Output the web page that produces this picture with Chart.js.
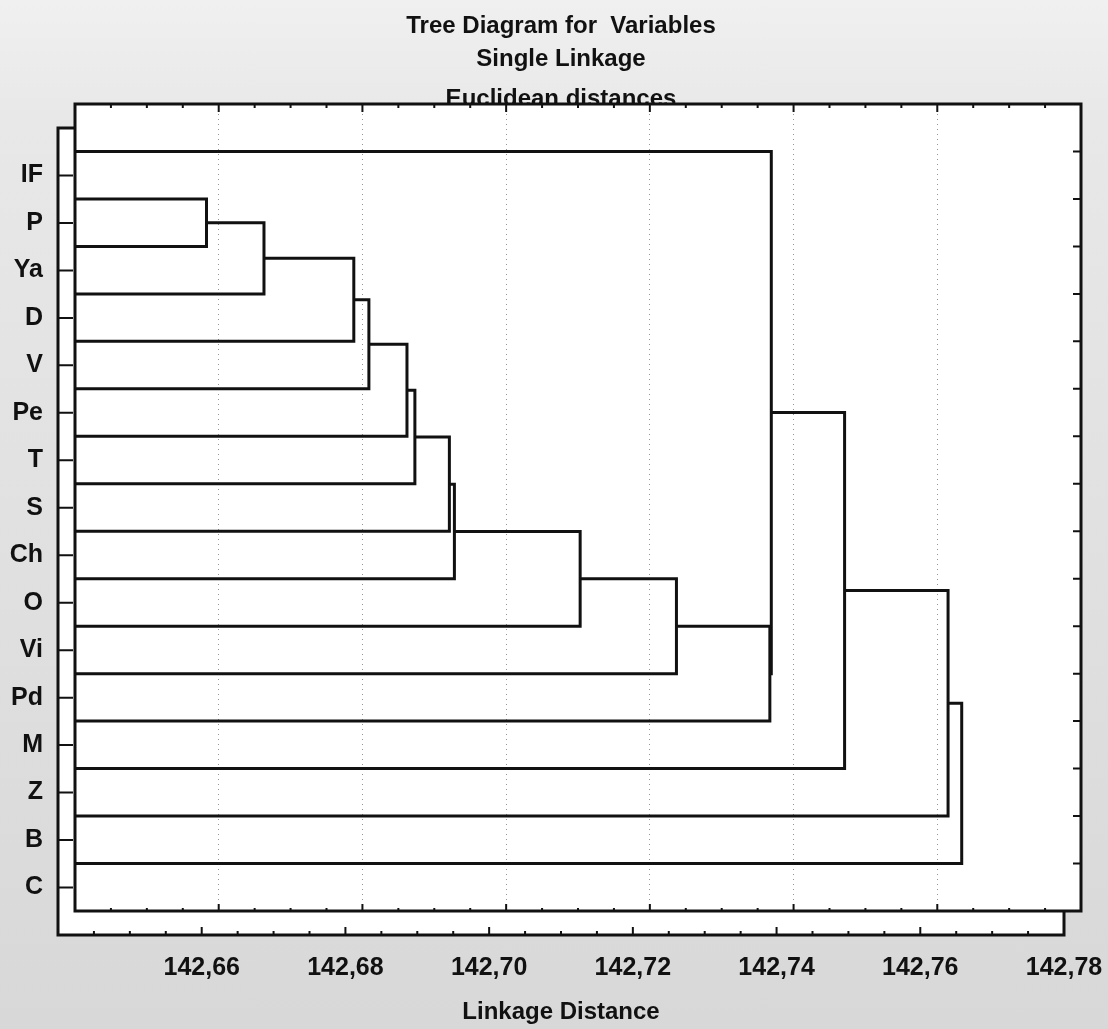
<!DOCTYPE html>
<html>
<head>
<meta charset="utf-8">
<title>Tree Diagram for Variables</title>
<script src="https://cdn.jsdelivr.net/npm/chart.js@4.4.1/dist/chart.umd.min.js"></script>
<style>
    html, body { margin: 0; padding: 0; }
    body {
        width: 1108px;
        height: 1029px;
        overflow: hidden;
        background: linear-gradient(#f0f0f0 0px, #e8e8e8 120px, #d8d8d8 100%);
    }
    #wrap { position: relative; width: 1108px; height: 1029px; overflow: hidden; }
    canvas { position: absolute; }
    /* the scanned page has the axis layer and the tree layer slightly out of register */
    #axesLayer { left: -17px; top: 0; }
    #treeLayer { left: 0; top: -24px; }
</style>
</head>
<body>
<div id="wrap">
    <canvas id="axesLayer" width="1150" height="1029"></canvas>
    <canvas id="treeLayer" width="1150" height="1029"></canvas>
</div>
<script>
const titleLines = ["Tree Diagram for  Variables", "Single Linkage"];
const subtitleLine = "Euclidean distances";
const axisTitle = "Linkage Distance";

const leafLabels = ["IF", "P", "Ya", "D", "V", "Pe", "T", "S", "Ch", "O", "Vi", "Pd", "M", "Z", "B", "C"];

// merges: index < 16 is a leaf, 16 + k is the cluster made by merge k
const mergeLeft = [1, 16, 17, 18, 19, 20, 21, 22, 23, 24, 25, 0, 27, 28, 29];
const mergeRight = [2, 3, 4, 5, 6, 7, 8, 9, 10, 11, 12, 26, 13, 14, 15];
const mergeHeight = [142.6583, 142.6663, 142.6788, 142.6809, 142.6862, 142.6873, 142.6921,
    142.6928, 142.7103, 142.7237, 142.7367, 142.7369, 142.7471, 142.7615, 142.7634];

const distanceTicks = [142.66, 142.68, 142.70, 142.72, 142.74, 142.76, 142.78];
const distanceMin = 142.64;
const distanceMax = 142.78;

const ink = "#111111";
const fontFamily = "'Liberation Sans', Arial, Helvetica, sans-serif";

// dendrogram layout: each cluster sits halfway between its two children
const nodeY = leafLabels.map((_, i) => i + 1);
const nodeH = leafLabels.map(() => distanceMin);
const segments = [];
mergeHeight.forEach((h, i) => {
    const a = mergeLeft[i];
    const b = mergeRight[i];
    segments.push([
        { x: nodeH[a], y: nodeY[a] },
        { x: h, y: nodeY[a] },
        { x: h, y: nodeY[b] },
        { x: nodeH[b], y: nodeY[b] }
    ]);
    nodeY.push((nodeY[a] + nodeY[b]) / 2);
    nodeH.push(h);
});

// white plot paper, box frame and the little inward tick marks
const paperPlugin = {
    id: "paper",
    beforeDraw(chart) {
        const { ctx, chartArea: a } = chart;
        ctx.save();
        ctx.fillStyle = "#ffffff";
        ctx.fillRect(a.left, a.top, a.right - a.left, a.bottom - a.top);
        ctx.restore();
    },
    afterDraw(chart, args, opts) {
        const { ctx, chartArea: a, scales } = chart;
        ctx.save();
        ctx.strokeStyle = ink;
        ctx.lineWidth = 3;
        ctx.strokeRect(a.left, a.top, a.right - a.left, a.bottom - a.top);

        ctx.lineWidth = 2;
        ctx.beginPath();
        const steps = Math.round((distanceMax - distanceMin) / 0.005);
        for (let k = 1; k < steps; k++) {
            const px = scales.x.getPixelForValue(distanceMin + k * 0.005);
            const major = k % 4 === 0;
            const top = major ? opts.top[0] : opts.top[1];
            const bottom = major ? opts.bottom[0] : opts.bottom[1];
            if (top) {
                ctx.moveTo(px, a.top);
                ctx.lineTo(px, a.top + top);
            }
            if (bottom) {
                ctx.moveTo(px, a.bottom);
                ctx.lineTo(px, a.bottom - bottom);
            }
        }
        leafLabels.forEach((_, i) => {
            const py = scales.y.getPixelForValue(i + 1);
            if (opts.left) {
                ctx.moveTo(a.left, py);
                ctx.lineTo(a.left + opts.left, py);
            }
            if (opts.right) {
                ctx.moveTo(a.right, py);
                ctx.lineTo(a.right - opts.right, py);
            }
        });
        ctx.stroke();
        ctx.restore();
    }
};

function makeConfig(layer) {
    const isTree = layer === "tree";
    const textColor = isTree ? "transparent" : ink;
    const titleFont = { family: fontFamily, size: 24, weight: "bold", lineHeight: "33px" };

    return {
        type: "scatter",
        data: {
            datasets: isTree ? segments.map(points => ({
                data: points,
                showLine: true,
                borderColor: ink,
                borderWidth: 3,
                pointRadius: 0,
                tension: 0,
                fill: false
            })) : []
        },
        options: {
            responsive: false,
            animation: false,
            events: [],
            layout: {
                padding: { left: 0, right: 69, top: 0, bottom: 0 }
            },
            plugins: {
                legend: { display: false },
                tooltip: { enabled: false },
                title: {
                    display: true,
                    text: titleLines,
                    fullSize: false,
                    color: textColor,
                    font: titleFont,
                    padding: { top: 10, bottom: 0 }
                },
                // third heading line sits lower and is partly hidden by the plot frame
                subtitle: {
                    display: true,
                    text: subtitleLine,
                    fullSize: false,
                    color: textColor,
                    font: titleFont,
                    padding: { top: 7, bottom: 12 }
                },
                paper: isTree
                    ? { top: [8, 4], bottom: [7, 3], left: 0, right: 8 }
                    : { top: [0, 0], bottom: [8, 4], left: 15, right: 0 }
            },
            scales: {
                x: {
                    type: "linear",
                    min: distanceMin,
                    max: distanceMax,
                    afterBuildTicks: scale => {
                        scale.ticks = distanceTicks.map(v => ({ value: v }));
                    },
                    afterFit: scale => {
                        scale.height = 94;
                    },
                    grid: {
                        display: isTree,
                        drawTicks: false,
                        color: "#959595",
                        lineWidth: 1
                    },
                    border: { display: false, dash: [1, 4] },
                    ticks: {
                        color: textColor,
                        font: { family: fontFamily, size: 25, weight: "bold" },
                        padding: 18,
                        maxRotation: 0,
                        autoSkip: false,
                        callback: v => v.toFixed(2).replace(".", ",")
                    },
                    title: {
                        display: true,
                        text: axisTitle,
                        color: textColor,
                        font: { family: fontFamily, size: 24, weight: "bold" },
                        padding: { top: 14, bottom: 2 }
                    }
                },
                y: {
                    type: "linear",
                    reverse: true,
                    min: 0,
                    max: leafLabels.length + 1,
                    afterBuildTicks: scale => {
                        scale.ticks = leafLabels.map((_, i) => ({ value: i + 1 }));
                    },
                    afterFit: scale => {
                        scale.width = 75;
                    },
                    grid: { display: false, drawTicks: false },
                    border: { display: false },
                    ticks: {
                        color: textColor,
                        font: { family: fontFamily, size: 25, weight: "bold" },
                        padding: 15,
                        autoSkip: false,
                        callback: v => leafLabels[v - 1] ?? ""
                    }
                }
            }
        },
        plugins: [paperPlugin]
    };
}

new Chart(document.getElementById("axesLayer"), makeConfig("axes"));
new Chart(document.getElementById("treeLayer"), makeConfig("tree"));
</script>
</body>
</html>
